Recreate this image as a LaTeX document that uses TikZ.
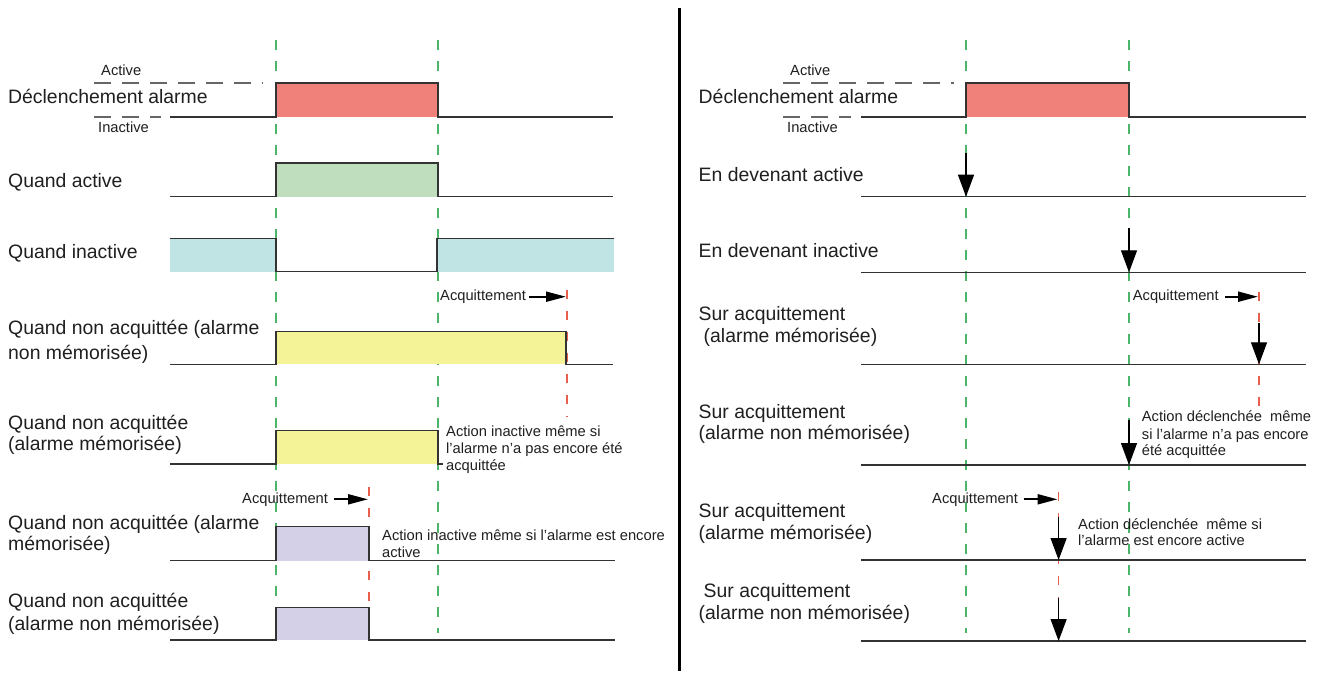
\documentclass[tikz,border=0pt]{standalone}
\usepackage{fontspec}
\setmainfont{Liberation Sans}
\usetikzlibrary{arrows.meta}
\definecolor{redfill}{HTML}{F0817A}
\definecolor{greenfill}{HTML}{BEDEBE}
\definecolor{bluefill}{HTML}{C0E4E4}
\definecolor{yellowfill}{HTML}{F5F397}
\definecolor{purplefill}{HTML}{D4D0E8}
\definecolor{gdashc}{HTML}{4DB56A}
\definecolor{rdashc}{HTML}{E8604C}
\definecolor{sigc}{HTML}{333333}
\begin{document}
\begin{tikzpicture}[x=1pt,y=-1pt,
  big/.style={font=\fontsize{19.4}{22}\selectfont, inner sep=0pt, anchor=base west, text=black!88},
  small/.style={font=\fontsize{14.7}{16.7}\selectfont, inner sep=0pt, anchor=base west, text=black!88},
  sig/.style={draw=sigc, line width=1.5pt, line join=miter},
  gdash/.style={draw=gdashc, line width=1.3pt, dash pattern=on 10pt off 11pt},
  rdash/.style={draw=rdashc, line width=1.1pt, dash pattern=on 9pt off 12pt},
  lvl/.style={draw=black!60, line width=1.3pt, dash pattern=on 17pt off 11pt},
  varrow/.style={draw=black, line width=1.2pt, -{Triangle[length=22pt,width=16pt]}},
  harrow/.style={draw=black, line width=2pt, -{Triangle[length=20pt,width=10pt]}},
  sep/.style={draw=black, line width=2.5pt}
]
\useasboundingbox[fill=white] (0,0) rectangle (1323,673);

% separator
\coordinate (septop) at (679.5,8);
\coordinate (sepbot) at (679.5,671);
\draw[sep] (septop) -- (sepbot);

% ===== LEFT PANEL =====
% green reference lines
\coordinate (gL1t) at (276,40); \coordinate (gL1b) at (276,633);
\coordinate (gL2t) at (438,40); \coordinate (gL2b) at (438,633);
\draw[gdash] (gL1t) -- (gL1b);
\draw[gdash] (gL2t) -- (gL2b);
% red acknowledgement lines
\coordinate (rL1t) at (567,290); \coordinate (rL1b) at (567,417);
\coordinate (rL2t) at (369,487); \coordinate (rL2b) at (369,603);
\draw[rdash] (rL1t) -- (rL1b);
\draw[rdash] (rL2t) -- (rL2b);

% row 1
\fill[redfill] (276,83) rectangle (438,117);
\draw[sig] (170,117) -- (276,117) -- (276,83) -- (438,83) -- (438,117) -- (613,117);
\draw[lvl] (94,83) -- (263,83);
\draw[lvl] (94,117) -- (161,117);
\node[small] (Lact) at (101,75.7) {Active};
\node[small] (Linact) at (98,132) {Inactive};
\node[big] (L1) at (8,103) {Déclenchement alarme};

% row 2
\fill[greenfill] (276,163) rectangle (438,196.7);
\draw[sig] (170,196.7) -- (276,196.7) -- (276,163) -- (438,163) -- (438,196.7) -- (613,196.7);
\node[big] (L2) at (8,187) {Quand active};

% row 3
\fill[bluefill] (170,238.3) rectangle (276,271.7);
\fill[bluefill] (437,238.3) rectangle (614,271.7);
\draw[sig] (170,238.3) -- (276,238.3) -- (276,271.7) -- (437,271.7) -- (437,238.3) -- (614,238.3);
\node[big] (L3) at (8,258) {Quand inactive};

% row 4
\node[small] (LA1) at (440,300.7) {Acquittement};
\coordinate (LA1s) at (529,296.7); \coordinate (LA1e) at (566,296.7);
\draw[harrow] (LA1s) -- (LA1e);
\fill[yellowfill] (276,331.7) rectangle (566,364.3);
\draw[sig] (170,364.3) -- (276,364.3) -- (276,331.7) -- (566,331.7) -- (566,364.3) -- (613,364.3);
\node[big] (L4a) at (8,334) {Quand non acquittée (alarme};
\node[big] (L4b) at (8,359) {non mémorisée)};

% row 5
\fill[yellowfill] (276,430.7) rectangle (438,464);
\draw[sig] (170,464) -- (276,464) -- (276,430.7) -- (438,430.7) -- (438,464) -- (443,464);
\node[big] (L5a) at (8,429) {Quand non acquittée};
\node[big] (L5b) at (8,450.5) {(alarme mémorisée)};
\node[small] (N5a) at (446,436.7) {Action inactive même si};
\node[small] (N5b) at (446,453.3) {l’alarme n’a pas encore été};
\node[small] (N5c) at (446,470) {acquittée};

% row 6
\node[small] (LA2) at (242,503.3) {Acquittement};
\coordinate (LA2s) at (334,499.3); \coordinate (LA2e) at (368,499.3);
\draw[harrow] (LA2s) -- (LA2e);
\fill[purplefill] (276,526.7) rectangle (369,560.7);
\draw[sig] (170,560.7) -- (276,560.7) -- (276,526.7) -- (369,526.7) -- (369,560.7) -- (615,560.7);
\node[big] (L6a) at (8,529) {Quand non acquittée (alarme};
\node[big] (L6b) at (8,550.5) {mémorisée)};
\node[small] (N6a) at (382,540.7) {Action inactive même si l’alarme est encore};
\node[small] (N6b) at (382,557.3) {active};

% row 7
\fill[purplefill] (276,607.3) rectangle (369,640);
\draw[sig] (170,640) -- (276,640) -- (276,607.3) -- (369,607.3) -- (369,640) -- (615,640);
\node[big] (L7a) at (8,607) {Quand non acquittée};
\node[big] (L7b) at (8,630) {(alarme non mémorisée)};

% ===== RIGHT PANEL =====
\coordinate (gR1t) at (966,40); \coordinate (gR1b) at (966,633);
\coordinate (gR2t) at (1129,40); \coordinate (gR2b) at (1129,633);
\draw[gdash] (gR1t) -- (gR1b);
\draw[gdash] (gR2t) -- (gR2b);
\coordinate (rR1t) at (1259,291.7); \coordinate (rR1b) at (1259,410);
\coordinate (rR2t) at (1058.6,491.7); \coordinate (rR2b) at (1058.6,597);
\draw[rdash] (rR1t) -- (rR1b);
\draw[rdash] (rR2t) -- (rR2b);

% row 1
\fill[redfill] (966,83) rectangle (1129,117);
\draw[sig] (861,117) -- (966,117) -- (966,83) -- (1129,83) -- (1129,117) -- (1306,117);
\draw[lvl] (783,83) -- (954,83);
\draw[lvl] (783,117) -- (851,117);
\node[small] (Ract) at (790,75.7) {Active};
\node[small] (Rinact) at (787,132) {Inactive};
\node[big] (R1) at (698.5,103) {Déclenchement alarme};

% row 2
\draw[sig] (861,196.7) -- (1306,196.7);
\node[big] (R2) at (698.5,181) {En devenant active};
\coordinate (R2s) at (966,153); \coordinate (R2e) at (966,196.7);
\draw[varrow] (R2s) -- (R2e);

% row 3
\draw[sig] (861,272.3) -- (1306,272.3);
\node[big] (R3) at (698.5,257) {En devenant inactive};
\coordinate (R3s) at (1129,228); \coordinate (R3e) at (1129,272.3);
\draw[varrow] (R3s) -- (R3e);

% row 4
\node[small] (RA1) at (1132.7,300.7) {Acquittement};
\coordinate (RA1s) at (1225,296.7); \coordinate (RA1e) at (1258,296.7);
\draw[harrow] (RA1s) -- (RA1e);
\draw[sig] (861,364.3) -- (1306,364.3);
\node[big] (R4a) at (698.5,320.5) {Sur acquittement};
\node[big] (R4b) at (703.5,342) {(alarme mémorisée)};
\coordinate (R4s) at (1259,323.3); \coordinate (R4e) at (1259,364.3);
\draw[varrow] (R4s) -- (R4e);

% row 5
\draw[sig] (861,465) -- (1306,465);
\node[big] (R5a) at (698.5,418) {Sur acquittement};
\node[big] (R5b) at (698.5,439) {(alarme non mémorisée)};
\node[small] (M5a) at (1141.7,421.7) {Action déclenchée\ \ même};
\node[small] (M5b) at (1141.7,439) {si l’alarme n’a pas encore};
\node[small] (M5c) at (1141.7,455) {été acquittée};
\coordinate (R5s) at (1129,420); \coordinate (R5e) at (1129,465);
\draw[varrow] (R5s) -- (R5e);

% row 6
\node[small] (RA2) at (932,503.3) {Acquittement};
\coordinate (RA2s) at (1023.6,499.3); \coordinate (RA2e) at (1057.5,499.3);
\draw[harrow] (RA2s) -- (RA2e);
\draw[sig] (861,560) -- (1306,560);
\node[big] (R6a) at (698.5,517) {Sur acquittement};
\node[big] (R6b) at (698.5,539.5) {(alarme mémorisée)};
\node[small] (M6a) at (1078,529) {Action déclenchée\ \ même si};
\node[small] (M6b) at (1078,545) {l’alarme est encore active};
\coordinate (R6s) at (1058.6,516.7); \coordinate (R6e) at (1058.6,560);
\draw[varrow] (R6s) -- (R6e);

% row 7
\draw[sig] (861,641) -- (1306,641);
\node[big] (R7a) at (703.5,597) {Sur acquittement};
\node[big] (R7b) at (698.5,619.5) {(alarme non mémorisée)};
\coordinate (R7s) at (1058.6,598); \coordinate (R7e) at (1058.6,641);
\draw[varrow] (R7s) -- (R7e);
\end{tikzpicture}
\end{document}
